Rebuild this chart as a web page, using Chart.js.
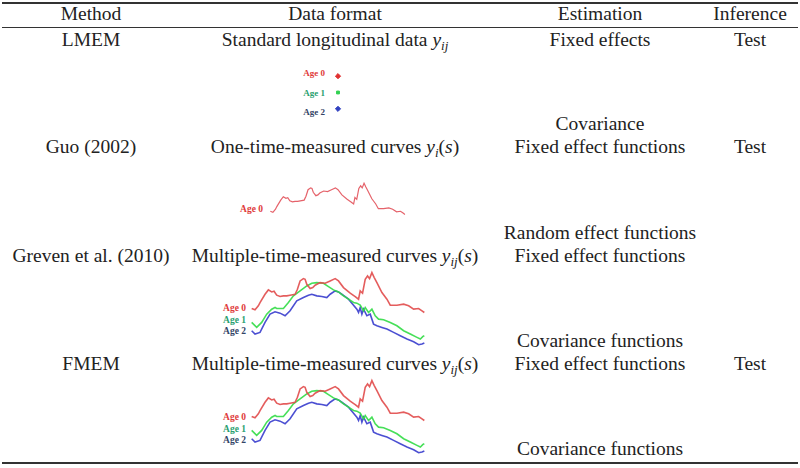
<!DOCTYPE html>
<html>
<head>
<meta charset="utf-8">
<script src="https://cdn.jsdelivr.net/npm/chart.js@4.4.1/dist/chart.umd.min.js"></script>
<style>
  body { margin: 0; background: #fff; }
  #page { position: relative; width: 800px; height: 468px; overflow: hidden; font-family: "Liberation Serif", serif; color: #222; }
  .t { position: absolute; width: 320px; text-align: center; font-size: 19.5px; line-height: 20px; white-space: nowrap; }
  .rule { position: absolute; left: 2px; width: 796px; background: #333; }
  .lab { position: absolute; font-size: 9.5px; font-weight: bold; line-height: 10px; text-align: right; width: 40px; white-space: nowrap; }
  canvas { position: absolute; }
  sub { font-size: 13px; font-style: italic; vertical-align: -4px; line-height: 0; }
</style>
</head>
<body>
<div id="page">
  <div class="rule" style="top:2px;height:2px"></div>
  <div class="rule" style="top:27px;height:1px"></div>
  <div class="rule" style="top:462px;height:2px"></div>

  <div class="t" style="left:-69px;top:4px">Method</div>
  <div class="t" style="left:175px;top:4px">Data format</div>
  <div class="t" style="left:440px;top:4px">Estimation</div>
  <div class="t" style="left:590px;top:4px">Inference</div>

  <div class="t" style="left:-69px;top:30px">LMEM</div>
  <div class="t" style="left:175px;top:30px">Standard longitudinal data <i>y</i><sub>ij</sub></div>
  <div class="t" style="left:440px;top:30px">Fixed effects</div>
  <div class="t" style="left:590px;top:30px">Test</div>

  <div class="t" style="left:440px;top:114px">Covariance</div>
  <div class="t" style="left:-69px;top:137px">Guo (2002)</div>
  <div class="t" style="left:175px;top:137px">One-time-measured curves <i>y</i><sub>i</sub>(<i>s</i>)</div>
  <div class="t" style="left:440px;top:137px">Fixed effect functions</div>
  <div class="t" style="left:590px;top:137px">Test</div>

  <div class="t" style="left:440px;top:223px">Random effect functions</div>
  <div class="t" style="left:-69px;top:246px">Greven et al. (2010)</div>
  <div class="t" style="left:175px;top:246px">Multiple-time-measured curves <i>y</i><sub>ij</sub>(<i>s</i>)</div>
  <div class="t" style="left:440px;top:246px">Fixed effect functions</div>

  <div class="t" style="left:440px;top:331px">Covariance functions</div>
  <div class="t" style="left:-69px;top:354px">FMEM</div>
  <div class="t" style="left:175px;top:354px">Multiple-time-measured curves <i>y</i><sub>ij</sub>(<i>s</i>)</div>
  <div class="t" style="left:440px;top:354px">Fixed effect functions</div>
  <div class="t" style="left:590px;top:354px">Test</div>
  <div class="t" style="left:440px;top:439px">Covariance functions</div>

  <div class="lab" style="left:285px;top:68px;color:#e03a3a;font-size:9px">Age 0</div>
  <div class="lab" style="left:285px;top:88px;color:#2aa070;font-size:9px">Age 1</div>
  <div class="lab" style="left:285px;top:107px;color:#334466;font-size:9px">Age 2</div>
  <canvas id="lmem" width="16" height="59" style="left:330px;top:63px"></canvas>

  <div class="lab" style="left:223px;top:204px;color:#e03a3a">Age 0</div>
  <canvas id="guo" width="138" height="65" style="left:269px;top:178px"></canvas>

  <div class="lab" style="left:206px;top:303px;color:#e03a3a">Age 0</div>
  <div class="lab" style="left:206px;top:315px;color:#2aa070">Age 1</div>
  <div class="lab" style="left:206px;top:326px;color:#334466">Age 2</div>
  <canvas id="greven" width="177" height="83" style="left:250px;top:266px"></canvas>

  <div class="lab" style="left:206px;top:412px;color:#e03a3a">Age 0</div>
  <div class="lab" style="left:206px;top:424px;color:#2aa070">Age 1</div>
  <div class="lab" style="left:206px;top:435px;color:#334466">Age 2</div>
  <canvas id="fmem" width="177" height="83" style="left:250px;top:374px"></canvas>
</div>

<script>
// LMEM: one measurement per age
const ageNames = ['Age 0', 'Age 1', 'Age 2'];
const ageLevels = [0, 1, 2];
const ageColors = ['#e03030', '#30d050', '#3040c0'];

// curves, s = time, v = response
const age0S = [0.5, 1.5, 2.5, 3.0, 4.5, 5.5, 6.5, 7.2, 8.0, 9.0, 10, 11, 12, 13.5, 14.2, 15, 16, 16.5, 17, 18, 18.8, 19.5, 21, 22.5, 24, 25.5, 26.5, 28, 30, 31.5, 32.5, 33, 33.7, 34.5, 35.2, 35.8, 36.5, 37.2, 38, 39.5, 41, 42, 44, 46, 47.5, 49, 50.5, 51.5, 52.2];
const age0V = [12.2, 11.8, 13.0, 14.0, 16.5, 17.8, 17.2, 17.4, 16.2, 15.8, 16.0, 16.0, 16.2, 16.5, 18.0, 20.5, 21.2, 21.0, 19.5, 18.2, 18.5, 19.2, 20.0, 19.8, 20.5, 21.2, 20.5, 18.5, 16.8, 15.8, 15.0, 17.5, 16.8, 21.0, 22.0, 21.2, 23.0, 21.5, 20.0, 17.0, 15.0, 13.2, 13.2, 13.5, 13.0, 12.0, 12.2, 11.5, 11.0];

const age1S = [0.5, 2, 3.5, 5, 6.5, 7.5, 8, 10, 11.5, 13, 15, 17, 18.5, 20, 22, 23.5, 25, 26.5, 28, 29.5, 31, 32, 33, 34, 34.5, 35.5, 36.5, 37.5, 38.5, 40, 42, 44, 46, 48, 50, 51, 51.8, 52.2];
const age1V = [8.0, 6.5, 8.0, 10.5, 12.0, 12.5, 12.2, 12.2, 14.0, 16.0, 17.5, 19.0, 19.8, 20.0, 19.8, 18.8, 17.8, 17.2, 16.0, 15.0, 14.0, 13.8, 13.2, 11.5, 12.5, 11.0, 12.0, 10.0, 9.0, 8.8, 8.0, 7.0, 5.5, 4.5, 3.5, 3.0, 3.8, 4.0];

const age2S = [0.5, 1.5, 3, 4.5, 6, 7.5, 9, 10.5, 12, 14, 16, 17.5, 18.5, 20, 21.5, 23, 24, 25.5, 26.5, 27.5, 28.5, 29.5, 30.5, 32, 32.5, 33, 33.5, 34, 35, 36, 37, 38, 39.5, 41, 43, 45, 47, 49, 50.5, 51.5, 52.2];
const age2V = [5.5, 4.5, 5.0, 8.0, 10.5, 11.2, 10.8, 10.0, 11.5, 14.5, 15.5, 16.2, 16.5, 16.0, 15.8, 15.5, 16.5, 17.5, 17.2, 16.5, 15.8, 15.0, 13.8, 12.0, 11.0, 12.5, 10.5, 12.0, 10.0, 10.5, 7.5, 7.0, 6.5, 6.0, 5.0, 4.0, 3.0, 2.2, 1.3, 1.5, 1.8];

function pairs(s, v) {
  return s.map((x, i) => ({ x: x, y: v[i] }));
}

function curveChart(id, series, width) {
  new Chart(document.getElementById(id), {
    type: 'line',
    data: {
      datasets: series.map(d => ({
        data: pairs(d[0], d[1]),
        borderColor: d[2],
        borderWidth: width,
        pointRadius: 0,
        tension: 0,
        clip: false
      }))
    },
    options: {
      responsive: false,
      animation: false,
      layout: { padding: 0 },
      plugins: { legend: { display: false }, tooltip: { enabled: false } },
      scales: {
        x: { type: 'linear', display: false, min: 0, max: 53 },
        y: { display: false, min: 0, max: 25 }
      }
    }
  });
}

new Chart(document.getElementById('lmem'), {
  type: 'scatter',
  data: {
    labels: ageNames,
    datasets: [{
      data: ageLevels.map(a => ({ x: 1, y: a })),
      pointBackgroundColor: ageColors,
      pointBorderColor: ageColors,
      pointStyle: ['rectRot', 'rect', 'rectRot'],
      pointRadius: [2.6, 2, 2.6],
      clip: false
    }]
  },
  options: {
    responsive: false,
    animation: false,
    layout: { padding: 0 },
    plugins: { legend: { display: false }, tooltip: { enabled: false } },
    scales: {
      x: { display: false, min: 0, max: 2 },
      y: { display: false, min: -0.5, max: 2.5, reverse: true }
    }
  }
});

curveChart('guo', [[age0S, age0V, 'rgba(225,70,80,0.85)']], 1.2);
curveChart('greven', [
  [age0S, age0V, 'rgba(225,75,75,0.9)'],
  [age1S, age1V, 'rgba(50,220,70,0.9)'],
  [age2S, age2V, 'rgba(55,60,205,0.9)']
], 1.6);
curveChart('fmem', [
  [age0S, age0V, 'rgba(225,75,75,0.9)'],
  [age1S, age1V, 'rgba(50,220,70,0.9)'],
  [age2S, age2V, 'rgba(55,60,205,0.9)']
], 1.6);
</script>
</body>
</html>
